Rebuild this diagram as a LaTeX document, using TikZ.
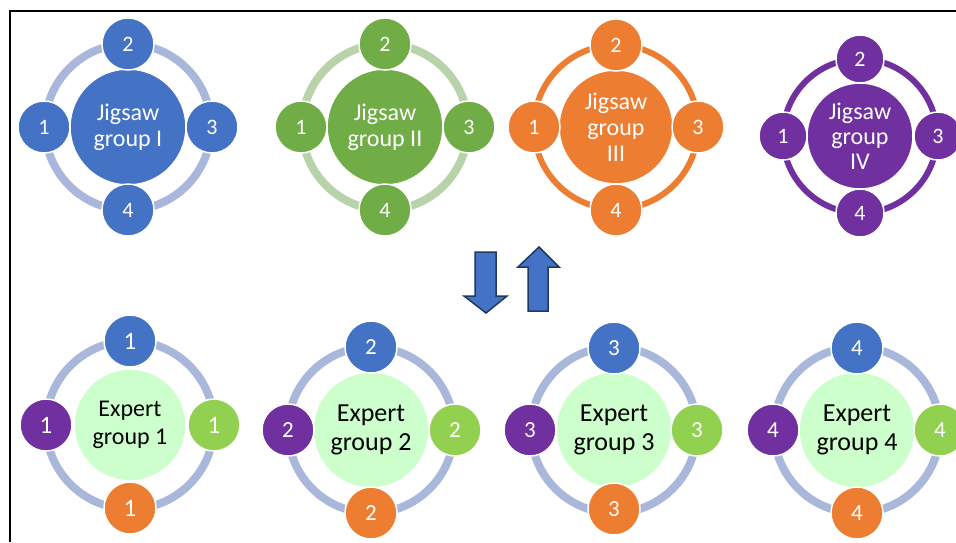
\documentclass[tikz,border=0pt]{standalone}
\usepackage{fontspec}
\setmainfont{Carlito}
\definecolor{cblue}{HTML}{4472C4}
\definecolor{cgreen}{HTML}{70AD47}
\definecolor{corange}{HTML}{ED7D31}
\definecolor{cpurple}{HTML}{7030A0}
\definecolor{clgreen}{HTML}{92D050}
\definecolor{cpale}{HTML}{CCFFCC}
\definecolor{ringblue}{HTML}{A9B7DB}
\definecolor{ringgreen}{HTML}{B8D3AA}
\definecolor{navy}{HTML}{1F3864}
\begin{document}
\begin{tikzpicture}[x=1pt,y=-1pt,
  ring/.style={line width=8pt},
  sm/.style={circle, draw=white, line width=1.5pt, minimum size=52pt, inner sep=0pt,
    text=white, font=\fontsize{22}{24}\selectfont},
  smexp/.style={sm, font=\fontsize{23}{24}\selectfont},
  big/.style={circle, draw=white, line width=1.5pt, minimum size=116pt, inner sep=0pt,
    align=center, text=white, font=\fontsize{24}{26}\selectfont},
  exp/.style={big, fill=cpale, text=black, font=\fontsize{26}{29}\selectfont},
  bigarrow/.style={fill=cblue, draw=navy, line width=1.5pt, line join=miter}
]
\useasboundingbox (0,0) rectangle (956,542);
\fill[white] (0,0) rectangle (956,542);
% frame
\draw[line width=1.3pt] (10,542) -- (10,11) -- (956,11);

% ---------- Jigsaw group I ----------
\begin{scope}[shift={(128,127)}]
  \node[big, fill=cblue, draw=none] (jIc) at (0,0) {};
  \draw[ring, ringblue] (jIc.center) circle[radius=83];
  \node[big, fill=cblue] (jI) at (0,0) {Jigsaw\\group I};
  \node[sm, fill=cblue] (jI2) at (0,-83) {2};
  \node[sm, fill=cblue] (jI1) at (-84,0) {1};
  \node[sm, fill=cblue] (jI3) at (84,0) {3};
  \node[sm, fill=cblue] (jI4) at (0,83) {4};
\end{scope}

% ---------- Jigsaw group II ----------
\begin{scope}[shift={(385,127)}]
  \node[big, fill=cgreen, draw=none] (jIIc) at (0,0) {};
  \draw[ring, ringgreen] (jIIc.center) circle[radius=83];
  \node[big, fill=cgreen] (jII) at (0,0) {Jigsaw\\group II};
  \node[sm, fill=cgreen] (jII2) at (0,-83) {2};
  \node[sm, fill=cgreen] (jII1) at (-84,0) {1};
  \node[sm, fill=cgreen] (jII3) at (84,0) {3};
  \node[sm, fill=cgreen] (jII4) at (0,83) {4};
\end{scope}

% ---------- Jigsaw group III ----------
\begin{scope}[shift={(616,127)}]
  \node[big, fill=corange, draw=none, minimum size=114pt] (jIIIc) at (0,0) {};
  \draw[line width=6pt, corange] (jIIIc.center) circle[radius=82];
  \node[big, fill=corange, minimum size=114pt] (jIII) at (0,0) {Jigsaw\\group\\III};
  \node[sm, fill=corange] (jIII2) at (0,-82) {2};
  \node[sm, fill=corange] (jIII1) at (-82,0) {1};
  \node[sm, fill=corange] (jIII3) at (82,0) {3};
  \node[sm, fill=corange] (jIII4) at (0,83) {4};
\end{scope}

% ---------- Jigsaw group IV ----------
\begin{scope}[shift={(860,136)}]
  \node[big, fill=cpurple, draw=none, minimum size=106pt] (jIVc) at (0,0) {};
  \draw[line width=6pt, cpurple] (jIVc.center) circle[radius=77];
  \node[big, fill=cpurple, minimum size=106pt, font=\fontsize{24}{25}\selectfont] (jIV) at (0,0) {Jigsaw\\group\\IV};
  \node[sm, fill=cpurple, minimum size=48pt] (jIV2) at (0,-77) {2};
  \node[sm, fill=cpurple, minimum size=48pt] (jIV1) at (-77,0) {1};
  \node[sm, fill=cpurple, minimum size=48pt] (jIV3) at (78,0) {3};
  \node[sm, fill=cpurple, minimum size=48pt] (jIV4) at (0,77) {4};
\end{scope}

% ---------- arrows ----------
\filldraw[bigarrow] (475,252) -- (496,252) -- (496,296) -- (507,296) -- (486,313)
  -- (464,296) -- (475,296) -- cycle;
\filldraw[bigarrow] (528,311) -- (548,311) -- (548,267) -- (559,267) -- (539,247)
  -- (518,267) -- (528,267) -- cycle;

% ---------- Expert group 1 ----------
\begin{scope}[shift={(130,425)}]
  \node[exp, draw=none, minimum size=112pt] (e1c) at (0,0) {};
  \draw[ring, ringblue] (e1c.center) circle[radius=84];
  \node[exp, minimum size=112pt, font=\fontsize{24}{28}\selectfont] (e1) at (0,0) {Expert\\group 1};
  \node[smexp, fill=cblue, font=\fontsize{25}{24}\selectfont] (e1t) at (0,-84) {1};
  \node[smexp, fill=cpurple, font=\fontsize{25}{24}\selectfont] (e1l) at (-84,0) {1};
  \node[smexp, fill=clgreen, font=\fontsize{25}{24}\selectfont] (e1r) at (84,0) {1};
  \node[smexp, fill=corange, font=\fontsize{25}{24}\selectfont] (e1b) at (0,83) {1};
\end{scope}

% ---------- Expert group 2 ----------
\begin{scope}[shift={(371,430)}]
  \node[exp, draw=none] (e2c) at (0,0) {};
  \draw[ring, ringblue] (e2c.center) circle[radius=83];
  \node[exp] (e2) at (0,0) {Expert\\group 2};
  \node[smexp, fill=cblue] (e2t) at (0,-83) {2};
  \node[smexp, fill=cpurple] (e2l) at (-83,0) {2};
  \node[smexp, fill=clgreen] (e2r) at (84,0) {2};
  \node[smexp, fill=corange] (e2b) at (0,83) {2};
\end{scope}

% ---------- Expert group 3 ----------
\begin{scope}[shift={(614,430)}]
  \node[exp, draw=none] (e3c) at (0,0) {};
  \draw[ring, ringblue] (e3c.center) circle[radius=83];
  \node[exp] (e3) at (0,0) {Expert\\group 3};
  \node[smexp, fill=cblue] (e3t) at (0,-82) {3};
  \node[smexp, fill=cpurple] (e3l) at (-84,0) {3};
  \node[smexp, fill=clgreen] (e3r) at (83,0) {3};
  \node[smexp, fill=corange] (e3b) at (0,79) {3};
\end{scope}

% ---------- Expert group 4 ----------
\begin{scope}[shift={(857,430)}]
  \node[exp, draw=none] (e4c) at (0,0) {};
  \draw[ring, ringblue] (e4c.center) circle[radius=83];
  \node[exp] (e4) at (0,0) {Expert\\group 4};
  \node[smexp, fill=cblue] (e4t) at (0,-82) {4};
  \node[smexp, fill=cpurple] (e4l) at (-84,0) {4};
  \node[smexp, fill=clgreen] (e4r) at (83,0) {4};
  \node[smexp, fill=corange] (e4b) at (0,83) {4};
\end{scope}
\end{tikzpicture}
\end{document}
